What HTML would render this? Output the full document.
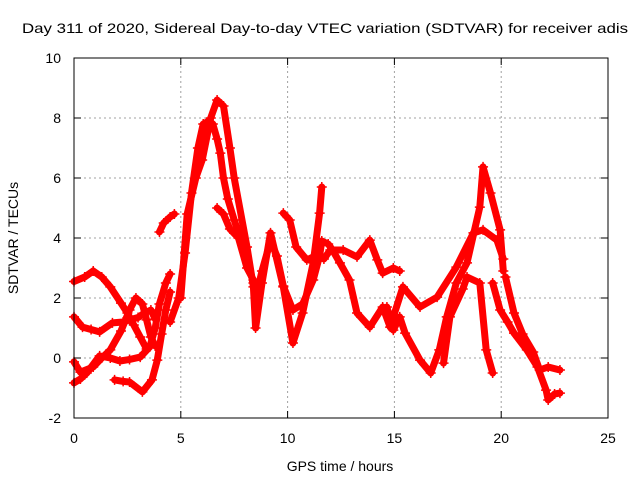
<!DOCTYPE html>
<html><head><meta charset="utf-8"><style>
body{margin:0;background:#fff;}
svg{display:block;font-family:"Liberation Sans",sans-serif;}
</style></head><body>
<svg id="chart" width="640" height="480" viewBox="0 0 640 480" xmlns="http://www.w3.org/2000/svg">
<rect width="640" height="480" fill="#fff"/>
<text x="325" y="33" font-size="14" text-anchor="middle" textLength="606" lengthAdjust="spacingAndGlyphs" fill="#000">Day 311 of 2020, Sidereal Day-to-day VTEC variation (SDTVAR) for receiver adis</text>
<g id="grid"></g>
<g id="series"></g>
<g id="axes"></g>
<text x="0" y="0" font-size="14" text-anchor="middle" transform="translate(18,238) rotate(-90)" fill="#000">SDTVAR / TECUs</text>
<text x="340" y="471" font-size="14" text-anchor="middle" fill="#000">GPS time / hours</text>
</svg>
<script>
const xTicks=[0,5,10,15,20,25];
const yTicks=[-2,0,2,4,6,8,10];
const sAh=[0,0.5,0.9,1.3,1.7,2.2,2.5,2.8,3.1,3.4];
const sAv=[2.55,2.7,2.9,2.7,2.37,1.83,1.5,1.1,0.7,0.3];
const sBh=[0,0.4,0.8,1.2,1.8,2.3,2.6,3.0,3.3,3.6,3.8];
const sBv=[1.37,1.03,0.95,0.87,1.17,1.2,1.27,1.35,1.5,1.6,1.3];
const sCh=[0,0.3,0.9,1.3,1.7,2.2,2.6,2.9,3.2,3.4,3.6,3.8];
const sCv=[-0.13,-0.47,-0.3,0.0,0.27,0.9,1.6,2.0,1.8,1.27,0.7,0.4];
const sDh=[0,0.3,0.6,1.2,1.7,2.15,2.6,3.1,3.55,3.8,4.0,4.3,4.5];
const sDv=[-0.83,-0.7,-0.5,0.07,0.0,-0.1,-0.05,0.03,0.37,1.0,1.8,2.5,2.8];
const sEh=[1.9,2.3,2.6,3.2,3.65,3.9,4.1,4.3,4.5];
const sEv=[-0.73,-0.78,-0.8,-1.13,-0.73,-0.07,0.8,1.6,2.2];
const sFh=[4.0,4.2,4.5,4.7];
const sFv=[4.2,4.5,4.7,4.8];
const sGh=[4.5,4.9,5.2,5.5,5.8,6.05,6.3,6.5,6.7,6.85,7.0,7.2,7.5,8.1,8.4,8.5,8.8,9.2,9.5,9.8,10.25,10.7,11.2,11.5,11.6,11.9,12.1,12.45,12.9,13.25,13.85,14.45,14.8,15.4,16.2,17.0,17.9,18.7,19.15,19.8,20.1];
const sGv=[1.2,2.0,3.5,5.5,7.0,7.8,7.9,7.8,7.3,6.83,6.0,5.3,4.6,3.3,2.5,2.0,2.9,3.9,3.4,2.4,1.6,1.8,2.6,3.4,3.9,3.8,3.6,3.17,2.6,1.5,1.03,1.7,1.03,2.37,1.7,2.03,3.03,4.17,4.27,3.93,3.3];
const sHh=[5.0,5.3,5.7,6.0,6.4,6.7,7.0,7.3,7.5,8.1,8.4,8.5,8.8,9.2,9.8,10.25,10.7,11.2,11.5,11.6];
const sHv=[2.0,4.8,6.0,6.6,8.0,8.6,8.4,7.0,6.0,3.7,2.37,1.0,2.5,4.17,2.37,0.5,1.5,3.17,4.83,5.7];
const sIh=[6.7,7.0,7.3,7.7,8.1,8.4];
const sIv=[5.0,4.8,4.3,4.0,3.0,2.6];
const sJh=[9.8,10.1,10.4,10.9,11.3,11.7,12.0,12.6,13.25,13.85,14.2,14.45,14.95,15.25];
const sJv=[4.83,4.6,3.7,3.27,3.4,3.3,3.6,3.6,3.37,3.93,3.27,2.83,3.0,2.9];
const sKh=[14.65,14.95,15.25,15.5,16.2,16.7,17.1,17.45,17.9,18.4,19.0,19.15,19.5,19.95,20.1];
const sKv=[1.7,0.93,1.37,0.83,-0.07,-0.5,0.27,1.37,2.5,3.17,5.03,6.37,5.5,4.27,2.9];
const sLh=[17.3,17.6,18.2,18.4,19.0,19.3,19.6];
const sLv=[-0.17,1.37,2.3,2.7,2.5,0.27,-0.5];
const sMh=[19.6,19.95,20.3,20.6,21.2,21.7,22.1,22.2,22.5,22.75];
const sMv=[2.5,1.6,1.2,0.83,0.27,-0.3,-1.07,-1.4,-1.2,-1.17];
const sNh=[20.2,20.6,21.0,21.5,21.8,22.2,22.75];
const sNv=[2.7,1.5,0.8,0.2,-0.4,-0.3,-0.4];
const series=[[sAh,sAv],[sBh,sBv],[sCh,sCv],[sDh,sDv],[sEh,sEv],[sFh,sFv],[sGh,sGv],[sHh,sHv],[sIh,sIv],[sJh,sJv],[sKh,sKv],[sLh,sLv],[sMh,sMv],[sNh,sNv]];
const X0=74,X1=608,Y0=418,Y1=58;
function xs(h){return X0+(h-0)/(25-0)*(X1-X0);}
function ys(v){return Y0-(v-(-2))/(10-(-2))*(Y0-Y1);}
const NS="http://www.w3.org/2000/svg";
function mk(t,a,p){const e=document.createElementNS(NS,t);for(const k in a)e.setAttribute(k,a[k]);p.appendChild(e);return e;}
const grid=document.getElementById('grid'),axes=document.getElementById('axes'),sg=document.getElementById('series');
xTicks.forEach(t=>{const x=xs(t);
 if(t>0&&t<25){const g=mk('line',{x1:x,y1:Y0,x2:x,y2:Y1,stroke:'#a0a0a0','stroke-dasharray':'2,3','stroke-width':1},grid);
 
 }
 mk('line',{x1:x,y1:Y0,x2:x,y2:Y0-7,stroke:'#000'},axes);
 mk('line',{x1:x,y1:Y1,x2:x,y2:Y1+7,stroke:'#000'},axes);
 const l=mk('text',{x:x,y:443,'font-size':14,'text-anchor':'middle',fill:'#000'},axes);l.textContent=t;
 
 
});
yTicks.forEach(t=>{const y=ys(t);
 if(t>-2&&t<10){const g=mk('line',{x1:X0,y1:y,x2:X1,y2:y,stroke:'#a0a0a0','stroke-dasharray':'2,3','stroke-width':1},grid);
 
 }
 mk('line',{x1:X0,y1:y,x2:X0+7,y2:y,stroke:'#000'},axes);
 mk('line',{x1:X1,y1:y,x2:X1-7,y2:y,stroke:'#000'},axes);
 const l=mk('text',{x:61,y:y+5,'font-size':14,'text-anchor':'end',fill:'#000'},axes);l.textContent=t;
 
 
});
const fr=mk('rect',{x:X0,y:Y1,width:X1-X0,height:Y0-Y1,fill:'none',stroke:'#000','stroke-width':1},axes);


series.forEach(([hs,vs],i)=>{
 const pts=hs.map((h,j)=>xs(h).toFixed(1)+','+ys(vs[j]).toFixed(1)).join(' ');
 const pl=mk('polyline',{points:pts,fill:'none',stroke:'#ff0000','stroke-width':7,'stroke-linejoin':'round','stroke-linecap':'round'},sg);
 
 
 hs.forEach((h,j)=>{const x=xs(h),y=ys(vs[j]);
  const p=mk('path',{d:`M${x-5},${y}H${x+5}M${x},${y-5}V${y+5}`,stroke:'#ff0000','stroke-width':1.5},sg);
  
  
 });
});
</script>
</body></html>
